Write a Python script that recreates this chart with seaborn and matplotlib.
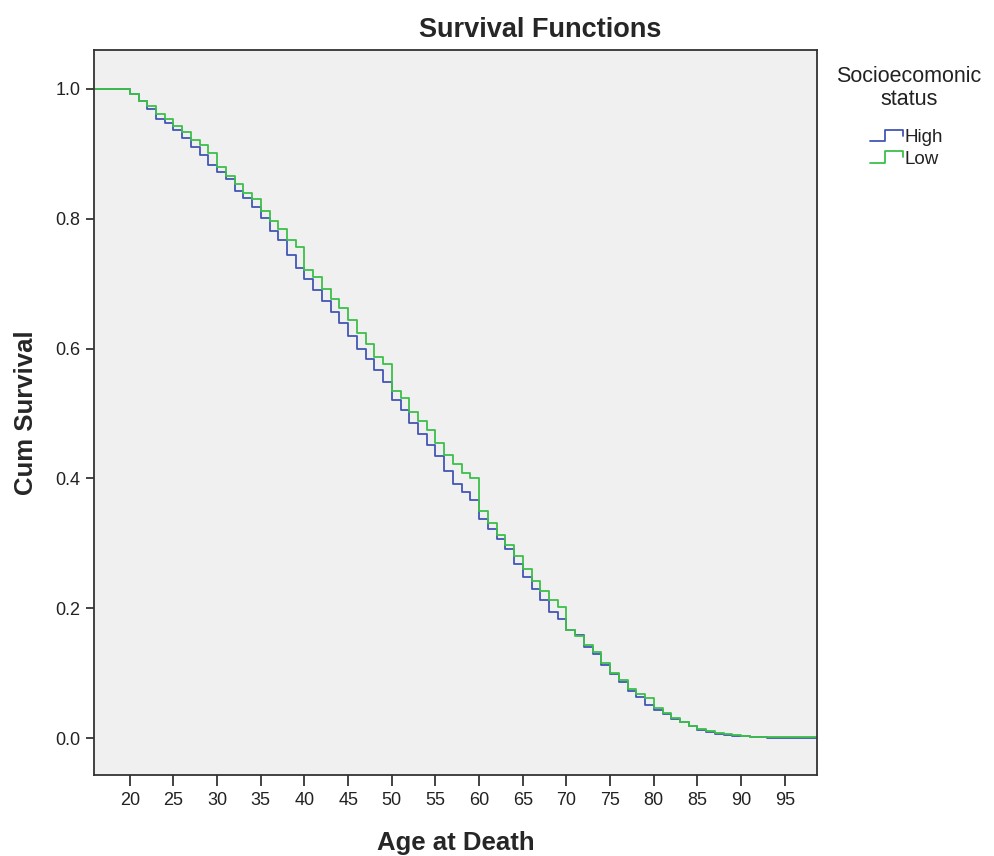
import pandas as pd
import seaborn as sns
import matplotlib.pyplot as plt
from matplotlib.lines import Line2D
from matplotlib.legend_handler import HandlerBase

# ---------------------------- Data --------------------
ages = list(range(16, 100))

high = [1.0, 1.0, 1.0, 1.0,
        0.992, 0.982, 0.969, 0.954, 0.947, 0.937, 0.924, 0.911, 0.898, 0.883,
        0.872, 0.861, 0.843, 0.832, 0.818, 0.801, 0.781, 0.767, 0.744, 0.724,
        0.707, 0.691, 0.674, 0.657, 0.639, 0.620, 0.600, 0.584, 0.567, 0.549,
        0.521, 0.505, 0.486, 0.469, 0.452, 0.4345, 0.412, 0.392, 0.379, 0.366,
        0.337, 0.322, 0.306, 0.291, 0.268, 0.2485, 0.229, 0.2126, 0.1946, 0.184,
        0.1664, 0.158, 0.141, 0.130, 0.113, 0.099, 0.087, 0.073, 0.063, 0.051,
        0.043, 0.037, 0.030, 0.024, 0.018, 0.013, 0.010, 0.0065, 0.005, 0.0035,
        0.0025, 0.0015, 0.001, 0.0005, 0.0005, 0.0005, 0.0005, 0.0005, 0.0005, 0.0005]

low = [1.0, 1.0, 1.0, 1.0,
       0.992, 0.982, 0.973, 0.962, 0.954, 0.943, 0.933, 0.922, 0.913, 0.902,
       0.879, 0.866, 0.854, 0.840, 0.830, 0.8125, 0.797, 0.784, 0.768, 0.757,
       0.721, 0.710, 0.692, 0.676, 0.663, 0.644, 0.6235, 0.607, 0.5875, 0.576,
       0.535, 0.524, 0.502, 0.488, 0.4746, 0.454, 0.436, 0.4217, 0.409, 0.400,
       0.350, 0.332, 0.313, 0.297, 0.280, 0.260, 0.242, 0.227, 0.2126, 0.202,
       0.1664, 0.157, 0.143, 0.132, 0.115, 0.1006, 0.089, 0.075, 0.0673, 0.061,
       0.0458, 0.039, 0.031, 0.0247, 0.0185, 0.0139, 0.0103, 0.0072, 0.0055, 0.004,
       0.003, 0.002, 0.0015, 0.001, 0.001, 0.001, 0.001, 0.001, 0.001, 0.001]

groups = ['High', 'Low']
colors = {'High': '#4257b5', 'Low': '#3cc04a'}
x_ticks = list(range(20, 100, 5))
y_ticks = [0.0, 0.2, 0.4, 0.6, 0.8, 1.0]

df = pd.DataFrame({
    'Age at Death': ages + ages,
    'Cum Survival': high + low,
    'status': ['High'] * len(ages) + ['Low'] * len(ages),
})

# ---------------------------- Plot -----------------------------------------
sns.set_style('white')
fonts = ['Liberation Sans', 'DejaVu Sans']
plt.rcParams['font.family'] = fonts

fig = plt.figure(figsize=(9.94, 8.56), dpi=100)
ax = fig.add_axes([0.0946, 0.0946, 0.7274, 0.847])
ax.set_facecolor('#f0f0f0')

sns.lineplot(data=df, x='Age at Death', y='Cum Survival', hue='status',
             hue_order=groups, palette=colors, estimator=None,
             drawstyle='steps-post', linewidth=1.3, legend=False, ax=ax)

ax.set_xlim(15.9, 98.7)
ax.set_ylim(-0.057, 1.06)
ax.set_xticks(x_ticks)
ax.set_yticks(y_ticks)
ax.set_yticklabels([f'{v:.1f}' for v in y_ticks])
ax.tick_params(axis='x', direction='out', length=8, width=1.2, labelsize=13,
               colors='#222222', pad=4, bottom=True)
ax.tick_params(axis='y', direction='out', length=6, width=1.2, labelsize=13,
               colors='#222222', pad=4, left=True)
for sp in ax.spines.values():
    sp.set_color('#333333')
    sp.set_linewidth(1.3)

ax.set_xlabel('Age at Death', fontsize=18.5, fontweight='bold', labelpad=16)
ax.set_ylabel('Cum Survival', fontsize=18.5, fontweight='bold', labelpad=12)
fig.text(540 / 994, 1 - 30 / 856, 'Survival Functions', ha='center', va='center',
         fontsize=19.5, fontweight='bold')

# legend title, then entries with step-shaped icons
fig.text(909 / 994, 1 - 88 / 856, 'Socioecomonic\nstatus', ha='center',
         va='center', fontsize=15.5, linespacing=1.15, color='#222222')


class StepHandler(HandlerBase):
    def create_artists(self, legend, orig, xdescent, ydescent, width, height,
                       fontsize, trans):
        xs = [0, 0.45 * width, 0.45 * width, width, width]
        ys = [0.1 * height, 0.1 * height, 0.95 * height, 0.95 * height, 0.5 * height]
        ln = Line2D([x - xdescent for x in xs], [y - ydescent for y in ys],
                    color=orig.get_color(), linewidth=1.3)
        ln.set_transform(trans)
        return [ln]


handles = [Line2D([], [], color=colors[g]) for g in groups]
leg = fig.legend(handles, groups, handler_map={Line2D: StepHandler()},
                 loc='upper left', bbox_to_anchor=(870 / 994, 1 - 129 / 856),
                 frameon=False, fontsize=13.5, handlelength=1.75,
                 handletextpad=0.1, labelspacing=0.25, borderpad=0,
                 borderaxespad=0)
for t in leg.get_texts():
    t.set_color('#222222')

fig.savefig('out.png', dpi=100, facecolor='white')
